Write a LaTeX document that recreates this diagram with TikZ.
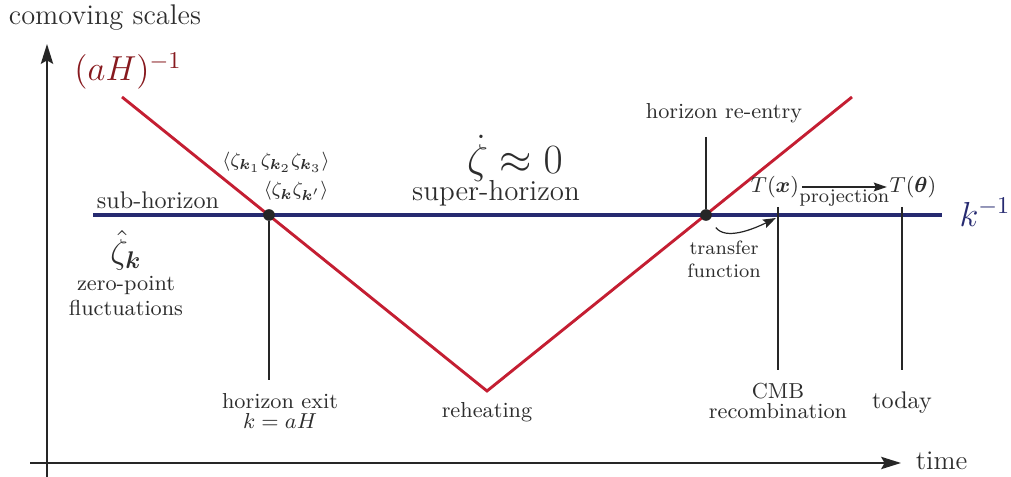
\documentclass[tikz,border=0pt]{standalone}
\usepackage{amsmath}
\usepackage{bm}
\usetikzlibrary{arrows.meta, positioning, calc}

\definecolor{inflred}{RGB}{196,30,50}
\definecolor{hubred}{RGB}{135,25,30}
\definecolor{modeblue}{RGB}{38,42,112}
\definecolor{labelgray}{RGB}{45,45,45}

\begin{document}
\begin{tikzpicture}[
		x=0.01458cm, y=-0.01458cm,
		axis/.style={-{Stealth[length=2.9mm, width=1.8mm, inset=0.5mm]}, line width=0.7pt, black!85},
		hubble/.style={line width=1.2pt, inflred},
		mode/.style={line width=1.9pt, modeblue},
		guide/.style={line width=0.45pt, black!85},
		dot/.style={circle, fill=black!85, inner sep=0pt, minimum size=0.17cm},
		lbl/.style={font=\fontsize{9}{8.6}\selectfont, text=labelgray, align=center, inner sep=1pt},
		small/.style={font=\fontsize{8}{9.4}\selectfont, text=labelgray, align=center, inner sep=1pt},
		big/.style={font=\fontsize{11.8}{13}\selectfont, text=labelgray, inner sep=1pt},
		thin arrow/.style={-{Stealth[length=1.9mm, width=1.3mm, inset=0.3mm]}, line width=0.5pt, black!85}
	]
	\useasboundingbox (0,0) rectangle (1011,477);
	
	% Axes
	\coordinate (ybot) at (47,477);
	\coordinate (ytop) at (47,44);
	\coordinate (xleft) at (30,463);
	\coordinate (xright) at (901,463);
	\draw[axis] (ybot) -- (ytop);
	\draw[axis] (xleft) -- (xright);
	\node[big, anchor=west] (ylbl) at (6,18) {comoving scales};
	\node[big, font=\fontsize{11.2}{13}\selectfont, anchor=west] (tlbl) at (913,461) {time};
	
	% Comoving Hubble radius and mode
	\coordinate (hubstart) at (122,97);
	\coordinate (reheat) at (487,391);
	\coordinate (hubend) at (852,97);
	\coordinate (modestart) at (93,215);
	\coordinate (modeend) at (942,215);
	\draw[mode] (modestart) -- (modeend);
	\draw[hubble, line join=miter] (hubstart) -- (reheat) -- (hubend);
	\node[font=\Large, text=hubred, inner sep=1pt] (hublbl) at (128,71) {$(aH)^{-1}$};
	\node[font=\Large, text=modeblue, inner sep=1pt] (klbl) at (985,212) {$k^{-1}$};
	
	% Crossings
	\node[dot] (exit) at (269,215) {};
	\node[dot] (reentry) at (706,215) {};
	
	% Labels along the mode
	\node[lbl, font=\fontsize{10}{12}\selectfont] (sub) at (158,200) {sub-horizon};
	\node[font=\Large, text=labelgray, inner sep=0pt] (zetahat) at (126,250) {$\hat{\zeta}_{\bm{k}}$};
	\node[lbl, font=\fontsize{9}{10.6}\selectfont] (zeropt) at (126,296) {zero-point\\fluctuations};
	\node[lbl, font=\fontsize{7.9}{10}\selectfont] (bisp) at (276,162) {$\langle\zeta_{\bm{k}_1}\zeta_{\bm{k}_2}\zeta_{\bm{k}_3}\rangle$};
	\node[lbl, font=\fontsize{8.4}{10}\selectfont] (powsp) at (296,191) {$\langle\zeta_{\bm{k}}\zeta_{\bm{k}'}\rangle$};
	\node[font=\fontsize{17}{20}\selectfont, text=labelgray, inner sep=0pt] (frozen) at (515,158) {$\dot{\zeta}\approx 0$};
	\node[lbl, font=\fontsize{12}{14}\selectfont, inner sep=0pt] (super) at (496,193) {super-horizon};
	
	% Horizon exit and reheating
	\node[lbl] (exitlbl) at (280,411) {horizon exit\\$k=aH$};
	\coordinate (exitbot) at (269,380);
	\draw[guide] (exit) -- (exitbot);
	\node[lbl, anchor=north] (reheatlbl) at ($(reheat)+(0,9)$) {reheating};
	
	% Horizon re-entry
	\node[lbl] (reentrylbl) at (724,113) {horizon re-entry};
	\coordinate (reentrytop) at (706,137);
	\draw[guide] (reentrytop) -- (reentry);
	\node[small] (transferlbl) at (724,259) {transfer\\function};
	\coordinate (cmbhit) at (776,218);
	\draw[thin arrow, shorten <=4pt] (reentry) to[out=-52, in=206] (cmbhit);
	
	% CMB and today
	\node[lbl, font=\fontsize{9}{10.4}\selectfont] (Tx) at (775,187) {$T(\bm{x})$};
	\node[lbl, font=\fontsize{9}{10.4}\selectfont] (Ttheta) at (913,187) {$T(\bm{\theta})$};
	\draw[thin arrow] (Tx) -- node[small, below=0pt] {projection} (Ttheta);
	\coordinate (cmbtop) at (778,207);
	\coordinate (cmbbot) at (778,370);
	\coordinate (todaytop) at (902,207);
	\coordinate (todaybot) at (902,370);
	\draw[guide] (cmbtop) -- (cmbbot);
	\draw[guide] (todaytop) -- (todaybot);
	\node[lbl, font=\fontsize{9}{8.2}\selectfont] (cmblbl) at (778,401) {CMB\\recombination};
	\node[lbl, font=\fontsize{10}{12}\selectfont] (todaylbl) at (902,403) {today};
	
\end{tikzpicture}
\end{document}
